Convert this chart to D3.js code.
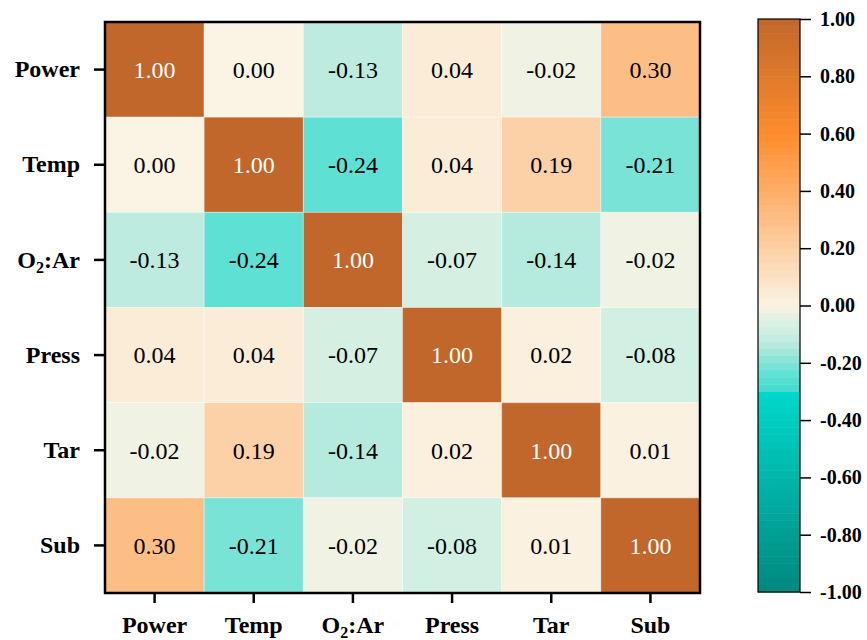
<!DOCTYPE html>
<html><head><meta charset="utf-8">
<script src="https://cdn.jsdelivr.net/npm/d3@7"></script>
<style>body{margin:0;background:#fff}svg{display:block}</style>
</head><body>
<svg id="chart" width="867" height="640"></svg>
<script>
const labels = ["Power", "Temp", "O2:Ar", "Press", "Tar", "Sub"];
const rowPower = [1.00, 0.00, -0.13, 0.04, -0.02, 0.30];
const rowTemp  = [0.00, 1.00, -0.24, 0.04, 0.19, -0.21];
const rowO2Ar  = [-0.13, -0.24, 1.00, -0.07, -0.14, -0.02];
const rowPress = [0.04, 0.04, -0.07, 1.00, 0.02, -0.08];
const rowTar   = [-0.02, 0.19, -0.14, 0.02, 1.00, 0.01];
const rowSub   = [0.30, -0.21, -0.02, -0.08, 0.01, 1.00];
const matrix = [rowPower, rowTemp, rowO2Ar, rowPress, rowTar, rowSub];
const cbTicks = [1.00, 0.80, 0.60, 0.40, 0.20, 0.00, -0.20, -0.40, -0.60, -0.80, -1.00];

const svg = d3.select("#chart");
const mLeft = 105, mTop = 22, W = 595, H = 571;
const serif = "'Liberation Serif', 'Times New Roman', serif";

const x = d3.scaleBand().domain(labels).range([mLeft, mLeft + W]);
const y = d3.scaleBand().domain(labels).range([mTop, mTop + H]);

const negDark = d3.scaleLinear().domain([-1, -0.3]).range(["#00887e", "#00d8cc"]).interpolate(d3.interpolateRgb);
const mid = d3.scaleLinear()
  .domain([-0.3, -0.24, -0.2, -0.13, -0.07, 0, 0.3, 0.6, 1])
  .range(["#42dacf", "#5fe0d4", "#80e4d6", "#beebdf", "#d5f0e3", "#fbf3e3", "#fdbe86", "#fe8c2c", "#c1672b"])
  .interpolate(d3.interpolateRgb).clamp(true);
function color(v) { return v < -0.3 ? negDark(v) : mid(v); }

const cells = [];
matrix.forEach((row, i) => row.forEach((v, j) => cells.push({r: labels[i], c: labels[j], v})));

svg.append("g").selectAll("rect").data(cells).join("rect")
  .attr("x", d => x(d.c)).attr("y", d => y(d.r))
  .attr("width", x.bandwidth()).attr("height", y.bandwidth())
  .attr("fill", d => color(d.v))
  .attr("stroke", "rgba(255,255,255,0.35)").attr("stroke-width", 1);

svg.append("g").selectAll("text").data(cells).join("text")
  .attr("x", d => x(d.c) + x.bandwidth() / 2)
  .attr("y", d => y(d.r) + y.bandwidth() / 2)
  .attr("dy", "0.35em")
  .attr("text-anchor", "middle")
  .attr("font-family", serif)
  .attr("font-size", 24)
  .attr("fill", d => d.v >= 0.95 ? "#ffffff" : "#000000")
  .text(d => d3.format(".2f")(d.v).replace("−", "-"));

svg.append("rect").attr("x", mLeft).attr("y", mTop).attr("width", W).attr("height", H)
  .attr("fill", "none").attr("stroke", "#000").attr("stroke-width", 2.5);

function labelText(sel) {
  sel.each(function(d) {
    const t = d3.select(this);
    t.text(null);
    if (d === "O2:Ar") {
      t.append("tspan").text("O");
      t.append("tspan").attr("font-size", 16).attr("dy", 5).text("2");
      t.append("tspan").attr("dy", -5).text(":Ar");
    } else t.text(d);
  });
}

const xAxis = svg.append("g").attr("transform", `translate(0,${mTop + H})`)
  .call(d3.axisBottom(x).tickSize(10).tickPadding(13));
xAxis.select(".domain").remove();
xAxis.selectAll(".tick line").attr("stroke", "#000").attr("stroke-width", 2.5);
xAxis.selectAll(".tick text")
  .attr("font-family", serif)
  .attr("font-weight", "bold").attr("font-size", 24).attr("fill", "#000")
  .call(labelText);

const yAxis = svg.append("g").attr("transform", `translate(${mLeft},0)`)
  .call(d3.axisLeft(y).tickSize(11).tickPadding(14));
yAxis.select(".domain").remove();
yAxis.selectAll(".tick line").attr("stroke", "#000").attr("stroke-width", 2.5);
yAxis.selectAll(".tick text")
  .attr("font-family", serif)
  .attr("font-weight", "bold").attr("font-size", 24).attr("fill", "#000")
  .call(labelText);

// colorbar
const cbX = 758, cbW = 42, cbTop = 19, cbBot = 592;
const cy = d3.scaleLinear().domain([-1, 1]).range([cbBot, cbTop]);
const nBands = 80;
const bands = d3.range(nBands).map(k => -1 + k * 2 / nBands);
svg.append("g").selectAll("rect").data(bands).join("rect")
  .attr("x", cbX).attr("width", cbW)
  .attr("y", d => cy(d + 2 / nBands)).attr("height", d => cy(d) - cy(d + 2 / nBands) + 0.5)
  .attr("fill", d => color(d + 1 / nBands));
svg.append("rect").attr("x", cbX).attr("y", cbTop).attr("width", cbW).attr("height", cbBot - cbTop)
  .attr("fill", "none").attr("stroke", "#000").attr("stroke-width", 1.2);

const cAxis = svg.append("g").attr("transform", `translate(${cbX + cbW},0)`)
  .call(d3.axisRight(cy).tickValues(cbTicks).tickFormat(d3.format(".2f")).tickSize(11).tickPadding(9));
cAxis.select(".domain").remove();
cAxis.selectAll(".tick line").attr("stroke", "#000").attr("stroke-width", 1.5);
cAxis.selectAll(".tick text")
  .attr("font-family", serif)
  .attr("font-weight", "bold").attr("font-size", 20).attr("fill", "#000")
  .text(d => d3.format(".2f")(d).replace("−", "-"));
</script>
</body></html>
